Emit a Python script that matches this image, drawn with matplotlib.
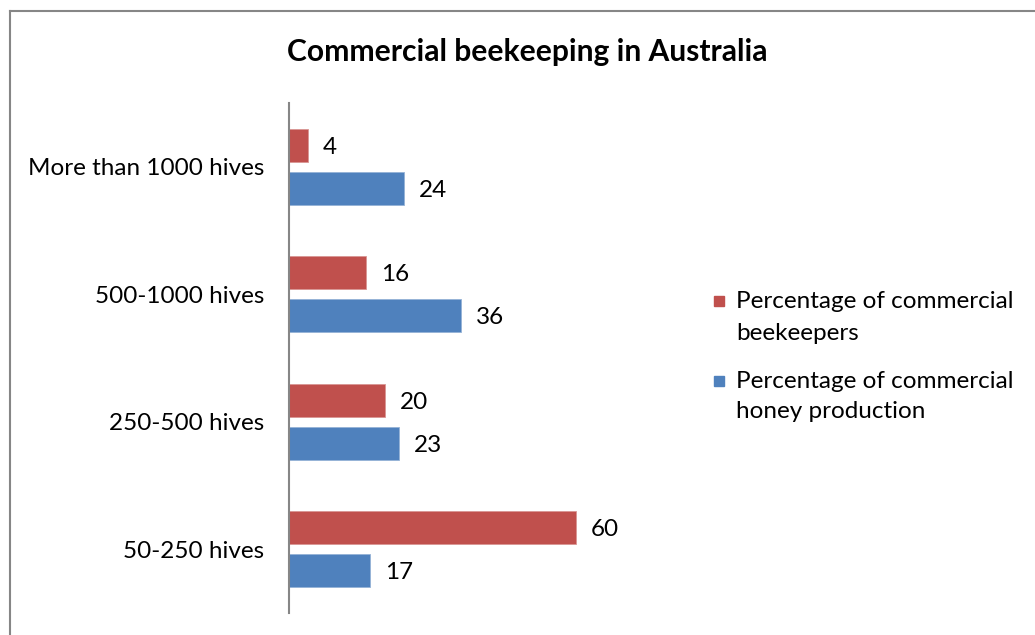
import matplotlib.pyplot as plt
import matplotlib.patches as mpatches
from matplotlib.lines import Line2D

plt.rcParams['font.family'] = ['Lato', 'DejaVu Sans']

categories = ['50-250 hives', '250-500 hives', '500-1000 hives', 'More than 1000 hives']
beekeepers = [60, 20, 16, 4]
production = [17, 23, 36, 24]
series_names = ['Percentage of commercial\nbeekeepers',
                'Percentage of commercial\nhoney production']
red = '#C0504D'
blue = '#4F81BD'

W, H = 1035, 635
fig = plt.figure(figsize=(W / 100, H / 100), dpi=100)
ax = fig.add_axes([289 / W, 22 / H, 335 / W, 510 / H])

pos = list(range(len(categories)))
off = 0.168
hgt = 0.26
ax.barh([p + off for p in pos], beekeepers, height=hgt, color=red, edgecolor='#D99694', linewidth=0.6)
ax.barh([p - off for p in pos], production, height=hgt, color=blue, edgecolor='#95B3D7', linewidth=0.6)

fs = 17.5
for p, v in zip(pos, beekeepers):
    ax.annotate(str(v), (v, p + off), xytext=(15, -2), textcoords='offset pixels',
                va='center', ha='left', fontsize=fs)
for p, v in zip(pos, production):
    ax.annotate(str(v), (v, p - off), xytext=(15, -2), textcoords='offset pixels',
                va='center', ha='left', fontsize=fs)

ax.set_xlim(0, 70)
ax.set_ylim(-0.5, 3.5)
ax.set_yticks(pos)
ax.set_yticklabels(categories, fontsize=fs)
ax.tick_params(axis='y', length=0, pad=18)
ax.set_xticks([])
for s in ['top', 'right', 'bottom']:
    ax.spines[s].set_visible(False)
ax.spines['left'].set_color('#868686')
ax.spines['left'].set_linewidth(1.5)

fig.text(527 / W, 1 - 52 / H, 'Commercial beekeeping in Australia',
         ha='center', va='center', fontsize=21.6, fontweight='bold')

# legend drawn by hand so the square sits on the first text line
for name, col, ys in zip(series_names, [red, blue], [(301, 333), (381, 412)]):
    fig.add_artist(mpatches.Rectangle((714 / W, 1 - (ys[0] + 5) / H), 10 / W, 10 / H,
                                      transform=fig.transFigure, color=col))
    for line, y in zip(name.split('\n'), ys):
        fig.text(736 / W, 1 - y / H, line, ha='left', va='center', fontsize=fs)

# chart frame
fig.add_artist(Line2D([10 / W, 10 / W], [0, 1 - 11 / H], color='#868686', lw=1.5))
fig.add_artist(Line2D([10 / W, 1], [1 - 11 / H, 1 - 11 / H], color='#868686', lw=1.5))

fig.savefig('out.png', dpi=100)
